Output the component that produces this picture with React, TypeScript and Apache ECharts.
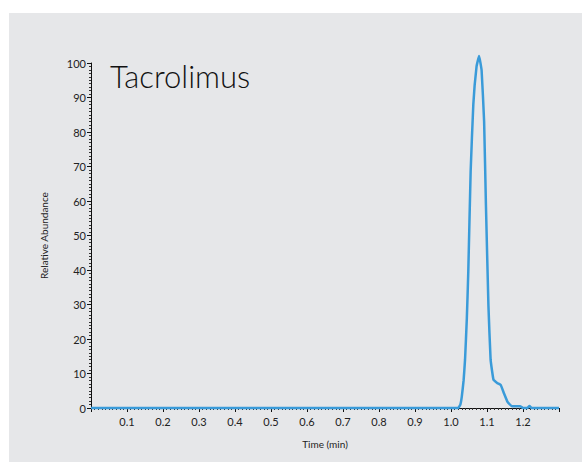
import React, { useEffect, useRef } from "react";
import * as echarts from "echarts";

const times = [0, 1.02, 1.026, 1.03, 1.035, 1.039, 1.044, 1.048, 1.0546, 1.062, 1.071, 1.078, 1.085, 1.092, 1.097, 1.104, 1.11, 1.118, 1.129, 1.138, 1.147, 1.157, 1.169, 1.192, 1.2, 1.212, 1.218, 1.224, 1.3];
const abundance = [0, 0, 1.0, 3.3, 8, 14, 26, 39.4, 68.7, 88, 99, 102, 97.9, 83, 58.9, 29.6, 14, 8.2, 7.2, 6.7, 4.3, 1.8, 0.5, 0.5, 0, 0, 0.6, 0, 0];
const titleText = "Tacrolimus";
const xName = "Time (min)";
const yName = "Relative Abundance";

const FONT = "Lato, 'Noto Sans', sans-serif";

export default function App() {
  const ref = useRef<HTMLDivElement>(null);
  useEffect(() => {
    if (!ref.current) return;
    const chart = echarts.init(ref.current, null, { renderer: "svg" });
    const data = times.map((t, i) => [t, abundance[i]]);
    chart.setOption({
      animation: false,
      backgroundColor: "#e6e7e9",
      textStyle: { fontFamily: FONT },
      title: {
        text: titleText,
        left: 96,
        top: 42,
        textStyle: { fontFamily: FONT, fontSize: 31, fontWeight: 300, color: "#111" },
      },
      grid: { left: 82, right: 23, top: 50, bottom: 54 },
      xAxis: {
        type: "value",
        min: 0,
        max: 1.3,
        interval: 0.1,
        name: xName,
        nameLocation: "middle",
        nameGap: 31,
        nameTextStyle: { fontSize: 10, color: "#222", fontFamily: FONT },
        axisLine: { lineStyle: { color: "#111", width: 1 } },
        axisTick: { show: true, length: 4, lineStyle: { color: "#111" } },
        minorTick: { show: true, splitNumber: 10, length: 2, lineStyle: { color: "#333" } },
        splitLine: { show: false },
        axisLabel: {
          fontSize: 11,
          color: "#222",
          margin: 8,
          formatter: (v: number) => (v < 0.05 || v > 1.25 ? "" : v.toFixed(1)),
        },
      },
      yAxis: {
        type: "value",
        min: 0,
        max: 100,
        interval: 10,
        name: yName,
        nameLocation: "middle",
        nameGap: 42,
        nameTextStyle: { fontSize: 10, color: "#222", fontFamily: FONT },
        axisLine: { show: true, lineStyle: { color: "#111", width: 1 } },
        axisTick: { show: true, length: 4, lineStyle: { color: "#111" } },
        minorTick: { show: true, splitNumber: 10, length: 2, lineStyle: { color: "#333" } },
        splitLine: { show: false },
        axisLabel: { fontSize: 11, color: "#222", margin: 5 },
      },
      series: [
        {
          type: "line",
          data,
          smooth: 0.1,
          symbol: "none",
          clip: false,
          lineStyle: { color: "#3a9bd9", width: 2.5 },
        },
      ],
    });
    return () => chart.dispose();
  }, []);
  return (
    <div
      ref={ref}
      style={{ position: "absolute", left: 9, top: 13, width: 573, height: 449 }}
    />
  );
}
